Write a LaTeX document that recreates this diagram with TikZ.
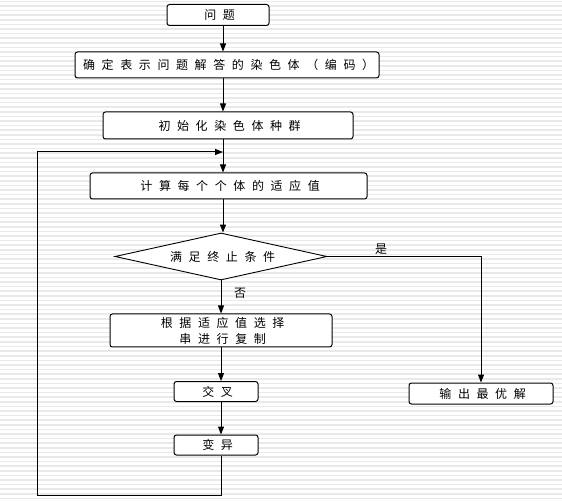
\documentclass[tikz,border=0pt]{standalone}
\usepackage{fontspec}
\newfontfamily\cjk[LetterSpace=55]{Noto Sans CJK SC}
\usetikzlibrary{arrows.meta,shapes.geometric}
\begin{document}
\begin{tikzpicture}[x=1pt,y=-1pt,
  txt/.style={font=\cjk\fontsize{12}{16}\selectfont},
  box/.style={txt,draw,rounded corners=2.5pt,line width=1pt,fill=white,inner sep=0pt,align=center},
  dec/.style={txt,draw,diamond,aspect=4.51,line width=0.9pt,fill=white,inner sep=0pt},
  lab/.style={txt,inner sep=0pt},
  ln/.style={line width=1pt},
  arr/.style={ln,-{Triangle[width=6pt,length=8pt]}}]
\useasboundingbox (0,0) rectangle (562,502);
\fill[white] (0,0) rectangle (562,502);
\foreach \yy in {1.5,6.1,...,502} \draw[gray!17,line width=1.6pt] (0,\yy) -- (562,\yy);
\coordinate (axis) at (223,0);
\node[box,minimum width=102pt,minimum height=21pt] (q) at (218,15) {\kern3.3pt 问题};
\node[box,minimum width=304pt,minimum height=26pt] (enc) at (227,65) {\kern3.3pt 确定表示问题解答的染色体（编码）};
\node[box,minimum width=250pt,minimum height=27pt] (init) at (228,125.5) {\kern3.3pt 初始化染色体种群};
\node[box,minimum width=277pt,minimum height=26pt] (fit) at (228.5,186) {\kern3.3pt 计算每个个体的适应值};
\node[dec,minimum width=212pt,minimum height=47pt] (dia) at (221,256.5) {\kern3.3pt 满足终止条件};
\node[box,minimum width=222pt,minimum height=33pt] (sel) at (221,330.5) {\kern3.3pt 根据适应值选择\\\kern3.3pt 串进行复制};
\node[box,minimum width=84pt,minimum height=20pt] (cross) at (216,391.5) {\kern3.3pt 交叉};
\node[box,minimum width=84pt,minimum height=20pt] (mut) at (216,445) {\kern3.3pt 变异};
\node[box,minimum width=144pt,minimum height=21pt] (out) at (481,393.5) {\kern3.3pt 输出最优解};
\node[lab] (yes) at (381,249) {是};
\node[lab] (no) at (240,293) {否};
\coordinate (lb) at (37,495);
\coordinate (lt) at (37,152);
\draw[arr] (q.south -| axis) -- (enc.north -| axis);
\draw[arr] (enc.south -| axis) -- (init.north -| axis);
\draw[arr] (init.south -| axis) -- (fit.north -| axis);
\draw[arr] (fit.south -| axis) -- (dia.north -| axis);
\draw[arr] (dia.south) -- (sel.north -| dia.south);
\draw[arr] (sel.south) -- (cross.north -| sel.south);
\draw[arr] (cross.south -| sel.south) -- (mut.north -| sel.south);
\draw[arr] (dia.east) -| (out.north);
\draw[ln] (mut.south -| sel.south) |- (lb) -- (lt);
\draw[arr] (lt) -- (lt -| axis);
\end{tikzpicture}
\end{document}
